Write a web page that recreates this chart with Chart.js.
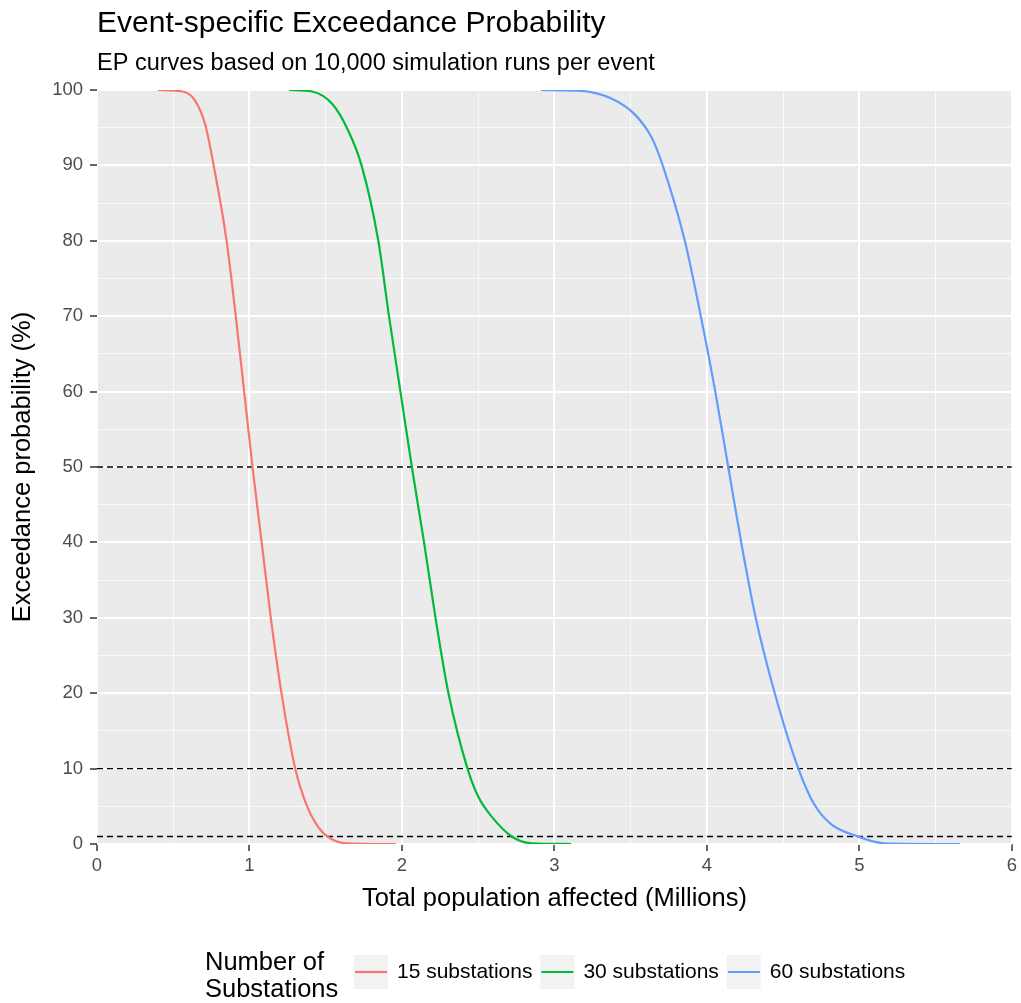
<!DOCTYPE html>
<html>
<head>
<meta charset="utf-8">
<script src="https://cdn.jsdelivr.net/npm/chart.js@4.4.1/dist/chart.umd.min.js"></script>
<style>
  html, body { margin: 0; padding: 0; background: #fff; }
  #epChart { display: block; }
</style>
</head>
<body>
<canvas id="epChart" width="1021" height="1003"></canvas>
<script>
// chart text
const chartTitle = 'Event-specific Exceedance Probability';
const chartSubtitle = 'EP curves based on 10,000 simulation runs per event';
const xAxisTitle = 'Total population affected (Millions)';
const yAxisTitle = 'Exceedance probability (%)';
const legendTitle = ['Number of', 'Substations'];

// series
const seriesNames = ['15 substations', '30 substations', '60 substations'];
const seriesColors = ['#F8766D', '#00BA38', '#619CFF'];

// 15 substations (population in millions, EP in %)
const pop15 = [0.40, 0.56, 0.64, 0.71, 0.765, 0.85, 0.91, 0.965, 1.02, 1.08, 1.14, 1.21, 1.30, 1.37, 1.436, 1.51, 1.63, 1.96];
const ep15  = [100, 99.8, 98.7, 95.4, 90, 80, 70, 60, 50, 40, 30, 20, 10, 5.4, 2.7, 1.0, 0.1, 0];

// 30 substations
const pop30 = [1.26, 1.41, 1.545, 1.65, 1.735, 1.845, 1.915, 1.99, 2.065, 2.145, 2.22, 2.305, 2.43, 2.50, 2.59, 2.72, 2.85, 3.11];
const ep30  = [100, 99.8, 98.1, 94.5, 90, 80, 70, 60, 50, 40, 30, 20, 10, 6.3, 3.6, 1.0, 0.1, 0];

// 60 substations
const pop60 = [2.91, 3.16, 3.37, 3.53, 3.64, 3.71, 3.855, 3.96, 4.055, 4.14, 4.225, 4.32, 4.445, 4.60, 4.70, 4.81, 4.99, 5.16, 5.66];
const ep60  = [100, 99.9, 98.9, 96.7, 93.6, 90, 80, 70, 60, 50, 40, 30, 20, 10, 5.4, 2.7, 1.0, 0.1, 0];

// reference lines (EP %)
const refLevels = [50, 10, 1];
const xRange = [0, 6];
const yRange = [0, 100];

const FONT = '"Liberation Sans", Arial, Helvetica, sans-serif';

function toPoints(xs, ys) {
    return xs.map((x, i) => ({x: x, y: ys[i]}));
}

const curveSets = [[pop15, ep15], [pop30, ep30], [pop60, ep60]].map((s, i) => ({
    label: seriesNames[i],
    data: toPoints(s[0], s[1]),
    borderColor: seriesColors[i],
    backgroundColor: seriesColors[i],
    borderWidth: 2.2,
    pointRadius: 0,
    cubicInterpolationMode: 'monotone',
    fill: false
}));

const refSets = refLevels.map(v => ({
    label: 'ref ' + v,
    data: toPoints(xRange, [v, v]),
    borderColor: '#000000',
    borderWidth: 1.4,
    borderDash: [6, 4],
    pointRadius: 0,
    fill: false
}));

// grey panel behind the grid
const panelBg = {
    id: 'panelBg',
    beforeDraw(chart) {
        const a = chart.chartArea, c = chart.ctx;
        c.save();
        c.fillStyle = '#EBEBEB';
        c.fillRect(a.left, a.top, a.right - a.left, a.bottom - a.top);
        c.restore();
    }
};

// title, subtitle and the ggplot-style bottom legend
const decorations = {
    id: 'decorations',
    afterDraw(chart) {
        const c = chart.ctx, a = chart.chartArea;
        c.save();
        c.fillStyle = '#000';
        c.textBaseline = 'alphabetic';
        c.textAlign = 'left';
        c.font = '30px ' + FONT;
        c.fillText(chartTitle, a.left, 32);
        c.font = '23.5px ' + FONT;
        c.fillText(chartSubtitle, a.left, 70);

        // legend
        c.textBaseline = 'middle';
        c.font = '25.5px ' + FONT;
        c.fillText(legendTitle[0], 205, 963);
        c.fillText(legendTitle[1], 205, 990);

        c.font = '21px ' + FONT;
        let x = 354;
        const keyW = 34, keyH = 34, cy = 972;
        seriesNames.forEach((name, i) => {
            c.fillStyle = '#F2F2F2';
            c.fillRect(x, cy - keyH / 2, keyW, keyH);
            c.strokeStyle = seriesColors[i];
            c.lineWidth = 2.2;
            c.beginPath();
            c.moveTo(x + 1, cy);
            c.lineTo(x + keyW - 1, cy);
            c.stroke();
            c.fillStyle = '#000';
            c.fillText(name, x + keyW + 9, cy);
            x += keyW + 9 + c.measureText(name).width + 8;
        });
        c.restore();
    }
};

const isMajorX = v => Math.abs(v - Math.round(v)) < 1e-9;
const isMajorY = v => v % 10 === 0;

new Chart(document.getElementById('epChart').getContext('2d'), {
    type: 'line',
    data: { datasets: curveSets.concat(refSets) },
    options: {
        responsive: false,
        animation: false,
        devicePixelRatio: 1,
        layout: { padding: { left: 0, right: 8, top: 90, bottom: 89 } },
        plugins: {
            legend: { display: false },
            title: { display: false },
            tooltip: { enabled: false }
        },
        scales: {
            x: {
                type: 'linear',
                min: xRange[0],
                max: xRange[1],
                afterFit: s => { s.height = 70; },
                border: { display: false },
                grid: {
                    color: ctx => isMajorX(ctx.tick.value) ? '#FFFFFF' : 'rgba(255,255,255,0.75)',
                    lineWidth: ctx => isMajorX(ctx.tick.value) ? 2 : 1,
                    tickColor: ctx => isMajorX(ctx.tick.value) ? '#333333' : 'rgba(0,0,0,0)',
                    tickLength: 7,
                    tickWidth: 1.5
                },
                ticks: {
                    stepSize: 0.5,
                    autoSkip: false,
                    maxRotation: 0,
                    padding: 4,
                    color: '#4D4D4D',
                    font: { family: FONT, size: 18.5 },
                    callback: v => isMajorX(v) ? String(Math.round(v)) : ''
                },
                title: {
                    display: true,
                    text: xAxisTitle,
                    color: '#000',
                    font: { family: FONT, size: 25.5 },
                    padding: { top: 2, bottom: 0 }
                }
            },
            y: {
                min: yRange[0],
                max: yRange[1],
                afterFit: s => { s.width = 97; },
                border: { display: false },
                grid: {
                    color: ctx => isMajorY(ctx.tick.value) ? '#FFFFFF' : 'rgba(255,255,255,0.75)',
                    lineWidth: ctx => isMajorY(ctx.tick.value) ? 2 : 1,
                    tickColor: ctx => isMajorY(ctx.tick.value) ? '#333333' : 'rgba(0,0,0,0)',
                    tickLength: 7,
                    tickWidth: 1.5
                },
                ticks: {
                    stepSize: 5,
                    autoSkip: false,
                    padding: 7,
                    color: '#4D4D4D',
                    font: { family: FONT, size: 18.5 },
                    callback: v => isMajorY(v) ? String(v) : ''
                },
                title: {
                    display: true,
                    text: yAxisTitle,
                    color: '#000',
                    font: { family: FONT, size: 25.5 },
                    padding: { top: 8, bottom: 0 }
                }
            }
        }
    },
    plugins: [panelBg, decorations]
});
</script>
</body>
</html>
